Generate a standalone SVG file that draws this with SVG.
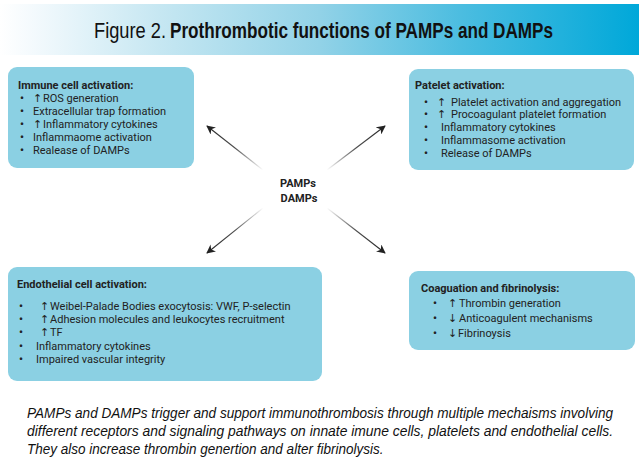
<svg xmlns="http://www.w3.org/2000/svg" width="639" height="464" viewBox="0 0 639 464">
<style>
.box{fill:#8bd0e3;}
.t{font-family:Roboto,"DejaVu Sans",sans-serif;font-size:11px;fill:#222;}
.b{font-weight:bold;}
.bu{font-family:Roboto,"DejaVu Sans",sans-serif;font-size:11px;font-weight:bold;fill:#222;}
.ar{font-family:"DejaVu Sans",sans-serif;font-size:11px;fill:#222;}
.cap{font-family:"Liberation Sans",Arial,sans-serif;font-style:italic;font-size:14.5px;fill:#111;}
.ttl{font-family:"Liberation Sans",Arial,sans-serif;font-size:22px;fill:#111;}
.conn{stroke-width:1.1;fill:none;}
</style>
<defs>
<linearGradient id="band" x1="0" y1="0" x2="1" y2="0">
<stop offset="0" stop-color="#ffffff"/>
<stop offset="0.05" stop-color="#f4fafd"/>
<stop offset="0.25" stop-color="#c6e7f2"/>
<stop offset="0.5" stop-color="#92d2e7"/>
<stop offset="0.72" stop-color="#4cbde0"/>
<stop offset="1" stop-color="#00a8d9"/>
</linearGradient>
<linearGradient id="gUL" gradientUnits="userSpaceOnUse" x1="263" y1="170" x2="207" y2="126">
<stop offset="0" stop-color="#222" stop-opacity="0"/>
<stop offset="0.5" stop-color="#222" stop-opacity="0.8"/>
<stop offset="1" stop-color="#222"/>
</linearGradient>
<linearGradient id="gUR" gradientUnits="userSpaceOnUse" x1="327" y1="170" x2="385" y2="126">
<stop offset="0" stop-color="#222" stop-opacity="0"/>
<stop offset="0.5" stop-color="#222" stop-opacity="0.8"/>
<stop offset="1" stop-color="#222"/>
</linearGradient>
<linearGradient id="gLL" gradientUnits="userSpaceOnUse" x1="263" y1="208" x2="207" y2="253">
<stop offset="0" stop-color="#222" stop-opacity="0"/>
<stop offset="0.5" stop-color="#222" stop-opacity="0.8"/>
<stop offset="1" stop-color="#222"/>
</linearGradient>
<linearGradient id="gLR" gradientUnits="userSpaceOnUse" x1="327" y1="208" x2="385" y2="253">
<stop offset="0" stop-color="#222" stop-opacity="0"/>
<stop offset="0.5" stop-color="#222" stop-opacity="0.8"/>
<stop offset="1" stop-color="#222"/>
</linearGradient>
<marker id="ah" viewBox="0 0 10 10" refX="9" refY="5" markerWidth="9" markerHeight="9" markerUnits="userSpaceOnUse" orient="auto">
<path d="M0,0 L10,5 L0,10 L3,5 Z" fill="#222"/>
</marker>
</defs>
<rect width="639" height="464" fill="#ffffff"/>

<g id="title">
<rect x="0" y="4" width="639" height="51" fill="url(#band)"/>
<text class="ttl" transform="translate(94,38) scale(0.8,1)" x="0" y="0" textLength="90" lengthAdjust="spacingAndGlyphs">Figure 2.</text>
<text class="ttl b" transform="translate(170,38) scale(0.815,1)" x="0" y="0" textLength="470" lengthAdjust="spacingAndGlyphs">Prothrombotic functions of PAMPs and DAMPs</text>
</g>

<g id="connectors">
<line class="conn" x1="263" y1="170" x2="207" y2="126" stroke="url(#gUL)" marker-end="url(#ah)"/>
<line class="conn" x1="327" y1="170" x2="385" y2="126" stroke="url(#gUR)" marker-end="url(#ah)"/>
<line class="conn" x1="263" y1="208" x2="207" y2="253" stroke="url(#gLL)" marker-end="url(#ah)"/>
<line class="conn" x1="327" y1="208" x2="385" y2="253" stroke="url(#gLR)" marker-end="url(#ah)"/>
</g>

<g id="center">
<text class="t b" x="298" y="187" text-anchor="middle">PAMPs</text>
<text class="t b" x="299" y="202" text-anchor="middle">DAMPs</text>
</g>

<g id="immune">
<rect class="box" x="8" y="67" width="186" height="101" rx="9"/>
<text class="t b" x="18" y="89">Immune cell activation:</text>
<text class="bu" x="20" y="102">•</text><text class="ar" x="33" y="102">↑</text><text class="t" x="43" y="102">ROS generation</text>
<text class="bu" x="20" y="115">•</text><text class="t" x="33" y="115">Extracellular trap formation</text>
<text class="bu" x="20" y="128">•</text><text class="ar" x="33" y="128">↑</text><text class="t" x="43" y="128">Inflammatory cytokines</text>
<text class="bu" x="20" y="141">•</text><text class="t" x="33" y="141">Inflammaome activation</text>
<text class="bu" x="20" y="154">•</text><text class="t" x="33" y="154">Realease of DAMPs</text>
</g>

<g id="platelet">
<rect class="box" x="409" y="69" width="225" height="101" rx="9"/>
<text class="t b" x="415" y="89">Patelet activation:</text>
<text class="bu" x="424" y="106">•</text><text class="ar" x="437" y="106">↑</text><text class="t" x="451" y="106">Platelet activation and aggregation</text>
<text class="bu" x="424" y="118">•</text><text class="ar" x="437" y="118">↑</text><text class="t" x="451" y="118">Procoagulant platelet formation</text>
<text class="bu" x="424" y="131">•</text><text class="t" x="441" y="131">Inflammatory cytokines</text>
<text class="bu" x="424" y="144">•</text><text class="t" x="441" y="144">Inflammasome activation</text>
<text class="bu" x="424" y="157">•</text><text class="t" x="441" y="157">Release of DAMPs</text>
</g>

<g id="endothelial">
<rect class="box" x="8" y="267" width="314" height="114" rx="9"/>
<text class="t b" x="17" y="288">Endothelial cell activation:</text>
<text class="bu" x="19" y="310">•</text><text class="ar" x="40" y="310">↑</text><text class="t" x="50" y="310">Weibel-Palade Bodies exocytosis: VWF, P-selectin</text>
<text class="bu" x="19" y="323">•</text><text class="ar" x="40" y="323">↑</text><text class="t" x="50" y="323">Adhesion molecules and leukocytes recruitment</text>
<text class="bu" x="19" y="336">•</text><text class="ar" x="40" y="336">↑</text><text class="t" x="50" y="336">TF</text>
<text class="bu" x="19" y="350">•</text><text class="t" x="36" y="350">Inflammatory cytokines</text>
<text class="bu" x="19" y="363">•</text><text class="t" x="36" y="363">Impaired vascular integrity</text>
</g>

<g id="coagulation">
<rect class="box" x="409" y="271" width="226" height="79" rx="9"/>
<text class="t b" x="421" y="292">Coaguation and fibrinolysis:</text>
<text class="bu" x="433" y="307">•</text><text class="ar" x="448" y="307">↑</text><text class="t" x="459" y="307">Thrombin generation</text>
<text class="bu" x="433" y="322">•</text><text class="ar" x="448" y="322">↓</text><text class="t" x="459" y="322">Anticoagulent mechanisms</text>
<text class="bu" x="433" y="337">•</text><text class="ar" x="448" y="337">↓</text><text class="t" x="458" y="337">Fibrinoysis</text>
</g>

<g id="caption">
<text class="cap" transform="translate(27,418) scale(0.88,1)" x="0" y="0" textLength="666" lengthAdjust="spacingAndGlyphs">PAMPs and DAMPs trigger and support immunothrombosis through multiple mechaisms involving</text>
<text class="cap" transform="translate(27,436) scale(0.88,1)" x="0" y="0" textLength="666" lengthAdjust="spacingAndGlyphs">different receptors and signaling pathways on innate imune cells, platelets and endothelial cells.</text>
<text class="cap" transform="translate(27,454) scale(0.88,1)" x="0" y="0" textLength="405" lengthAdjust="spacingAndGlyphs">They also increase thrombin genertion and alter fibrinolysis.</text>
</g>
</svg>
